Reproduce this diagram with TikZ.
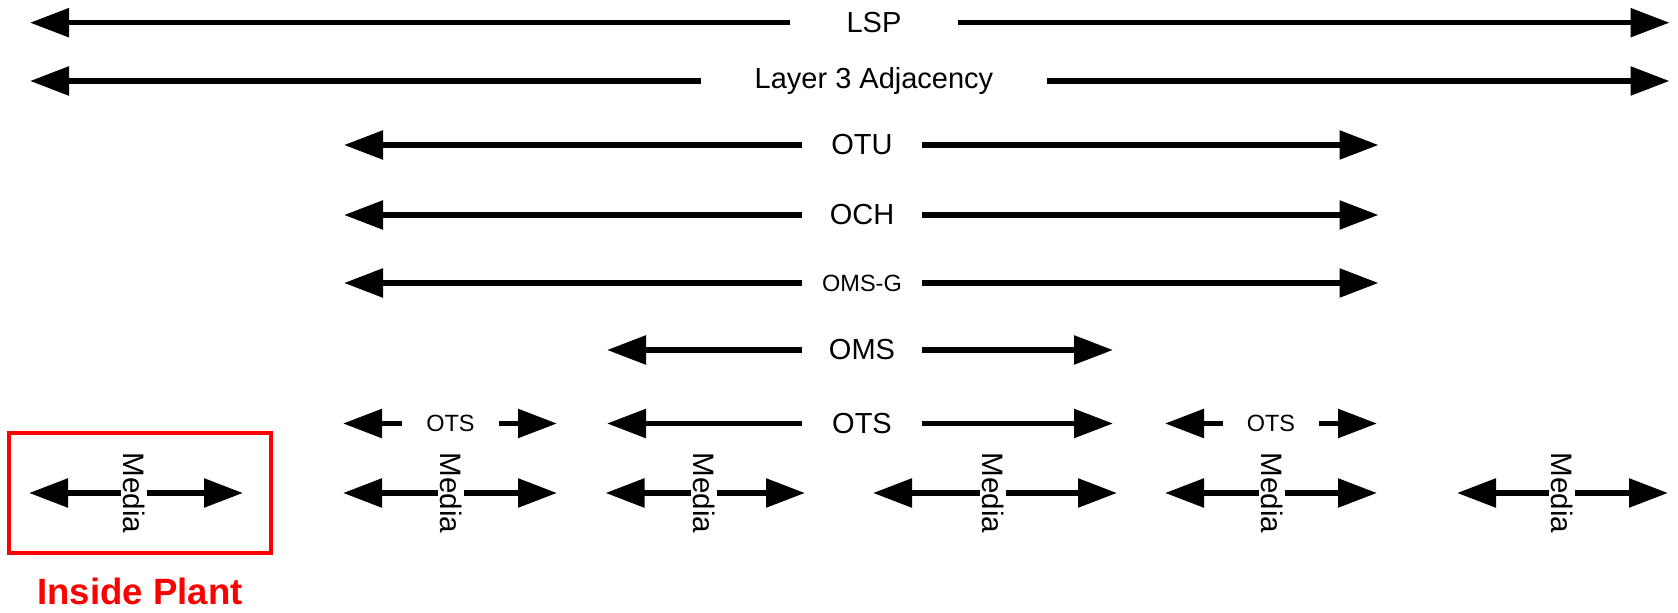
\documentclass[tikz,border=0pt]{standalone}
\usepackage{fontspec}
\setmainfont{Liberation Sans}
\usetikzlibrary{arrows.meta,positioning}

\tikzset{
  arr/.style={line width=2.8pt,-{Triangle[length=19.5pt,width=14pt]}},
  layer/.style={inner sep=0pt,minimum height=12pt,font=\fontsize{14.5}{17}\selectfont},
  smalllayer/.style={inner sep=0pt,minimum height=12pt,font=\fontsize{11.75}{14}\selectfont},
  media/.style={rotate=-90,fill=white,inner sep=1pt,font=\fontsize{14.8}{17}\selectfont},
}

\begin{document}
\begin{tikzpicture}[x=0.5pt,y=-0.5pt]

\def\PLANTCOLOR{red}
\useasboundingbox (0,0) rectangle (1678,613);

	% whole path
	\node[layer,minimum width=84pt] (lsp) at (874,22.7) {LSP};
	\coordinate (lspL) at (30,22.7);
	\coordinate (lspR) at (1669.5,22.7);
	\draw[arr] (lsp) -- (lspL);
	\draw[arr] (lsp) -- (lspR);

	\node[layer,minimum width=173pt] (adj) at (874,81) {Layer 3 Adjacency};
	\coordinate (adjL) at (30,81);
	\coordinate (adjR) at (1669.5,81);
	\draw[arr] (adj) -- (adjL);
	\draw[arr] (adj) -- (adjR);

	% optical layers
	\node[layer,minimum width=60pt] (otu) at (862,145) {OTU};
	\coordinate (otuL) at (344,145);
	\coordinate (otuR) at (1378.5,145);
	\draw[arr] (otu) -- (otuL);
	\draw[arr] (otu) -- (otuR);

	\node[layer,minimum width=60pt] (och) at (862,215) {OCH};
	\coordinate (ochL) at (344,215);
	\coordinate (ochR) at (1378.5,215);
	\draw[arr] (och) -- (ochL);
	\draw[arr] (och) -- (ochR);

	\node[smalllayer,minimum width=60pt] (omsg) at (862,283) {OMS-G};
	\coordinate (omsgL) at (344,283);
	\coordinate (omsgR) at (1378.5,283);
	\draw[arr] (omsg) -- (omsgL);
	\draw[arr] (omsg) -- (omsgR);

	\node[layer,minimum width=60pt] (oms) at (862,350) {OMS};
	\coordinate (omsL) at (607,350);
	\coordinate (omsR) at (1113,350);
	\draw[arr] (oms) -- (omsL);
	\draw[arr] (oms) -- (omsR);

	% sections
	\node[smalllayer,minimum width=48.5pt] (otsA) at (450.5,423.5) {OTS};
	\coordinate (otsAL) at (343,423.5);
	\coordinate (otsAR) at (557,423.5);
	\draw[arr] (otsA) -- (otsAL);
	\draw[arr] (otsA) -- (otsAR);

	\node[layer,minimum width=60pt] (otsB) at (862,423.5) {OTS};
	\coordinate (otsBL) at (607,423.5);
	\coordinate (otsBR) at (1113,423.5);
	\draw[arr] (otsB) -- (otsBL);
	\draw[arr] (otsB) -- (otsBR);

	\node[smalllayer,minimum width=48pt] (otsC) at (1271,423.5) {OTS};
	\coordinate (otsCL) at (1165,423.5);
	\coordinate (otsCR) at (1377,423.5);
	\draw[arr] (otsC) -- (otsCL);
	\draw[arr] (otsC) -- (otsCR);

	% media spans
	\node[media] (mediaA) at (134,493) {Media};
	\coordinate (mediaAL) at (29,493);
	\coordinate (mediaAR) at (243,493);
	\draw[arr] (mediaA) -- (mediaAL);
	\draw[arr] (mediaA) -- (mediaAR);

	\node[media] (mediaB) at (451,493) {Media};
	\coordinate (mediaBL) at (343,493);
	\coordinate (mediaBR) at (557,493);
	\draw[arr] (mediaB) -- (mediaBL);
	\draw[arr] (mediaB) -- (mediaBR);

	\node[media] (mediaC) at (704,493) {Media};
	\coordinate (mediaCL) at (605.5,493);
	\coordinate (mediaCR) at (805,493);
	\draw[arr] (mediaC) -- (mediaCL);
	\draw[arr] (mediaC) -- (mediaCR);

	\node[media] (mediaD) at (993,493) {Media};
	\coordinate (mediaDL) at (873,493);
	\coordinate (mediaDR) at (1117,493);
	\draw[arr] (mediaD) -- (mediaDL);
	\draw[arr] (mediaD) -- (mediaDR);

	\node[media] (mediaE) at (1272,493) {Media};
	\coordinate (mediaEL) at (1165,493);
	\coordinate (mediaER) at (1377,493);
	\draw[arr] (mediaE) -- (mediaEL);
	\draw[arr] (mediaE) -- (mediaER);

	\node[media] (mediaF) at (1562,493) {Media};
	\coordinate (mediaFL) at (1457,493);
	\coordinate (mediaFR) at (1668,493);
	\draw[arr] (mediaF) -- (mediaFL);
	\draw[arr] (mediaF) -- (mediaFR);

	% inside plant
	\node[draw=\PLANTCOLOR,line width=1.8pt,minimum width=131pt,minimum height=60pt] (plant) at (140,493) {};
	\node[text=\PLANTCOLOR,font=\fontsize{18.3}{22}\selectfont\bfseries,below=8pt of plant] (plantlbl) {Inside Plant};

\end{tikzpicture}
\end{document}
